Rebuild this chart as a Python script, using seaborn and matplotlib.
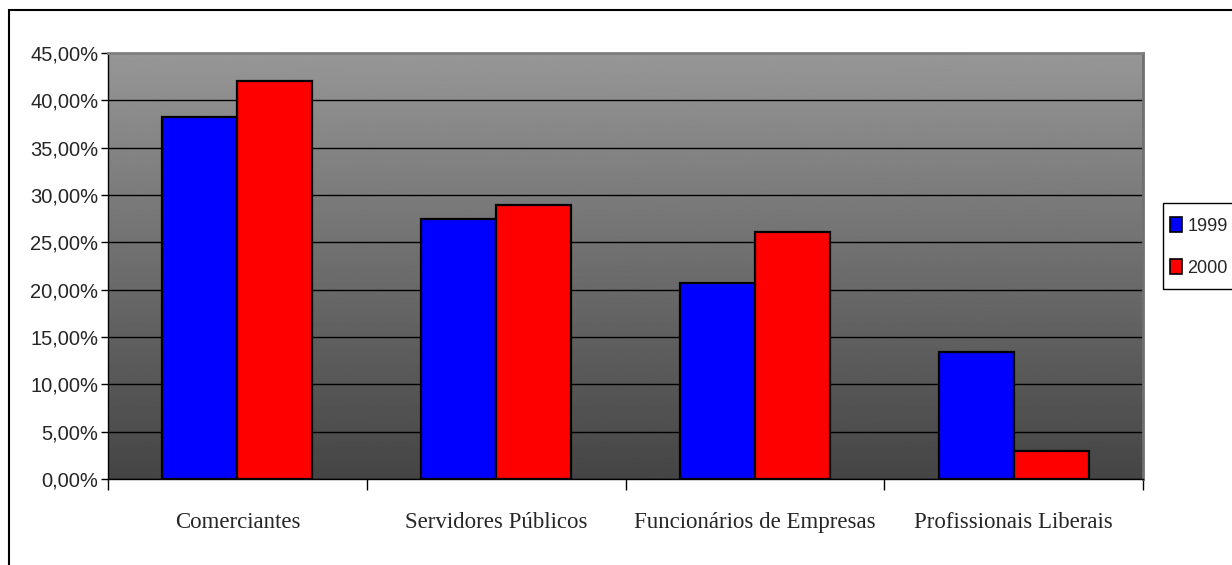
import numpy as np
import pandas as pd
import matplotlib
matplotlib.use("Agg")
import matplotlib.pyplot as plt
import matplotlib.patches as mpatches
from matplotlib.ticker import FuncFormatter
import seaborn as sns

categories = ["Comerciantes", "Servidores Públicos", "Funcionários de Empresas", "Profissionais Liberais"]
years = ["1999", "2000"]
values_1999 = [38.2, 27.5, 20.7, 13.45]
values_2000 = [42.0, 28.9, 26.1, 3.0]

df = pd.DataFrame({
    "categoria": categories * 2,
    "ano": [years[0]] * len(categories) + [years[1]] * len(categories),
    "valor": values_1999 + values_2000,
})

sns.set_style("white")
plt.rcParams["font.family"] = ["Liberation Sans", "DejaVu Sans"]

W, H = 1232, 565
fig = plt.figure(figsize=(W / 100, H / 100), dpi=100)
ax = fig.add_axes([108 / W, 1 - 479 / H, (1143 - 108) / W, (479 - 53) / H])

# gradient background
grad = np.linspace(0.59, 0.27, 256).reshape(-1, 1)
ax.imshow(grad, extent=[-0.5, 3.5, 0, 45], aspect="auto", cmap="gray",
          vmin=0, vmax=1, zorder=0, origin="upper")

sns.barplot(data=df, x="categoria", y="valor", hue="ano", order=categories,
            hue_order=years, palette=["#0000ff", "#ff0000"], width=0.58,
            edgecolor="black", linewidth=1.6, ax=ax, saturation=1, zorder=2)

ax.set_xlim(-0.5, 3.5)
ax.set_ylim(0, 45)
ax.set_yticks(np.arange(0, 46, 5))
ax.yaxis.set_major_formatter(FuncFormatter(lambda v, p: f"{v:.2f}%".replace(".", ",")))
ax.yaxis.grid(True, color="black", linewidth=1.0)
ax.set_axisbelow(True)
for gl in ax.get_ygridlines():
    gl.set_zorder(1)

ax.set_xticks([-0.5, 0.5, 1.5, 2.5, 3.5])
ax.set_xticklabels([])
ax.set_xticks(range(len(categories)), minor=True)
ax.set_xticklabels(categories, minor=True, family=["Liberation Serif", "DejaVu Serif"], fontsize=16.5)
ax.tick_params(axis="x", which="minor", length=0, pad=24)
ax.tick_params(axis="x", which="major", length=8, width=1, color="black", direction="out", bottom=True)
ax.tick_params(axis="y", length=5, width=1, color="black", direction="out", left=True, labelsize=14.5, pad=2)
ax.set_xlabel("")
ax.set_ylabel("")

ax.spines["left"].set_color("black")
ax.spines["bottom"].set_color("black")
ax.spines["left"].set_linewidth(1)
ax.spines["bottom"].set_linewidth(1)
ax.spines["top"].set_color("#808080")
ax.spines["right"].set_color("#707070")
ax.spines["top"].set_linewidth(2)
ax.spines["right"].set_linewidth(2)

ax.legend_.remove()
handles = [mpatches.Patch(facecolor="#0000ff", edgecolor="black", linewidth=1.2, label=years[0]),
           mpatches.Patch(facecolor="#ff0000", edgecolor="black", linewidth=1.2, label=years[1])]
leg = fig.legend(handles=handles, loc="center left",
                 bbox_to_anchor=(1170 / W, 1 - 247 / H),
                 bbox_transform=fig.transFigure, frameon=False,
                 fontsize=13, handlelength=0.67, handleheight=0.89,
                 handletextpad=0.3, borderpad=0, labelspacing=1.35, borderaxespad=0)

# legend box
legbox = mpatches.Rectangle((1163 / W, 1 - 289 / H), 100 / W, 86 / H, transform=fig.transFigure,
                            fill=False, edgecolor="black", linewidth=1.0)
fig.patches.append(legbox)

# outer chart border
border = mpatches.Rectangle((9 / W, -0.2), 2, (H - 10) / H + 0.2, transform=fig.transFigure,
                            fill=False, edgecolor="black", linewidth=1.5)
fig.patches.append(border)

fig.savefig("out.png", dpi=100)
